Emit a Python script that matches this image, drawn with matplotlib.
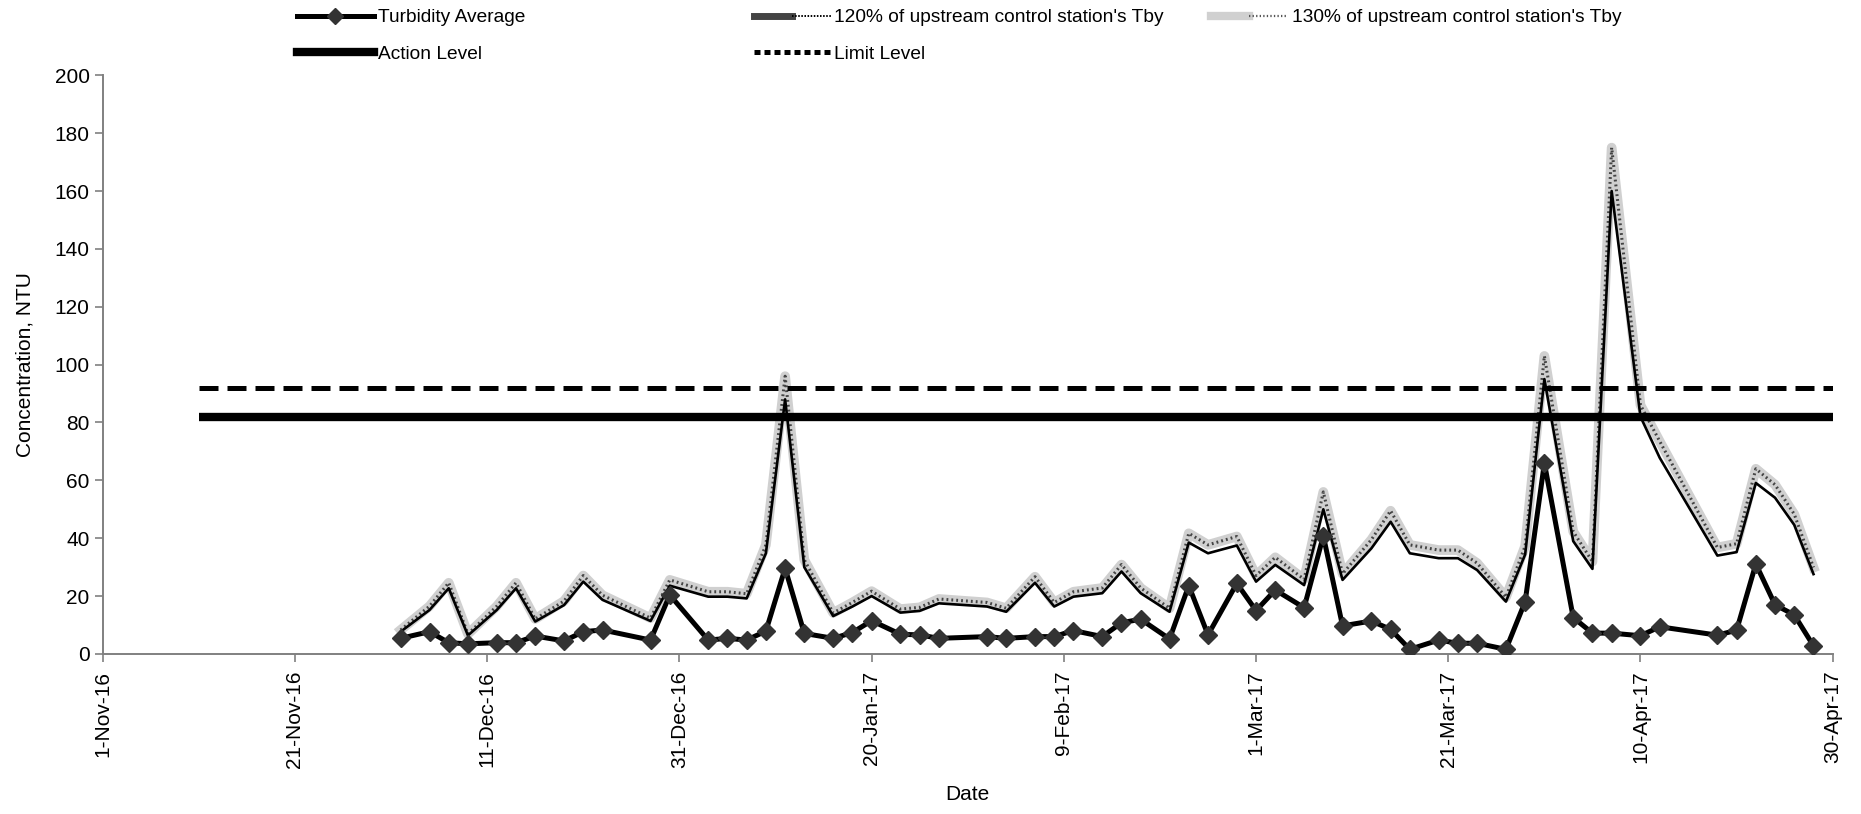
import matplotlib
matplotlib.use('Agg')
import matplotlib.pyplot as plt
import pandas as pd
from matplotlib.lines import Line2D
from matplotlib.legend_handler import HandlerTuple

plt.rcParams['font.family'] = ['Liberation Sans', 'DejaVu Sans']

sample_dates = [
    '2016-12-02', '2016-12-05', '2016-12-07', '2016-12-09', '2016-12-12', '2016-12-14',
    '2016-12-16', '2016-12-19', '2016-12-21', '2016-12-23', '2016-12-28', '2016-12-30',
    '2017-01-03', '2017-01-05', '2017-01-07', '2017-01-09', '2017-01-11', '2017-01-13',
    '2017-01-16', '2017-01-18', '2017-01-20', '2017-01-23', '2017-01-25', '2017-01-27',
    '2017-02-01', '2017-02-03', '2017-02-06', '2017-02-08', '2017-02-10', '2017-02-13',
    '2017-02-15', '2017-02-17', '2017-02-20', '2017-02-22', '2017-02-24', '2017-02-27',
    '2017-03-01', '2017-03-03', '2017-03-06', '2017-03-08', '2017-03-10', '2017-03-13',
    '2017-03-15', '2017-03-17', '2017-03-20', '2017-03-22', '2017-03-24', '2017-03-27',
    '2017-03-29', '2017-03-31', '2017-04-03', '2017-04-05', '2017-04-07', '2017-04-10',
    '2017-04-12', '2017-04-18', '2017-04-20', '2017-04-22', '2017-04-24', '2017-04-26',
    '2017-04-28',
]

turbidity_avg = [
    5.4, 7.7, 3.9, 3.5, 3.9, 3.9, 6.2, 4.5, 7.7, 8.3, 4.8, 20.4,
    4.8, 5.4, 4.8, 7.9, 29.6, 7.1, 5.4, 7.4, 11.5, 6.8, 6.6, 5.4,
    6.0, 5.4, 6.0, 6.0, 8.1, 6.0, 10.8, 12.0, 5.2, 23.6, 6.6, 24.4,
    15.0, 22.1, 16.0, 40.8, 9.7, 11.4, 8.5, 1.6, 4.8, 3.7, 3.7, 1.6,
    18.1, 66.0, 12.6, 7.2, 7.2, 6.3, 9.4, 6.5, 8.2, 31.1, 17.0, 13.5,
    2.8,
]

tby_120 = [
    7.7, 15.2, 22.7, 6.4, 15.2, 22.7, 11.2, 16.9, 25.0, 18.7, 11.4, 23.6,
    19.8, 19.8, 19.2, 34.8, 88.0, 30.0, 13.1, 16.4, 20.0, 14.3, 14.9, 17.5,
    16.4, 14.6, 24.6, 16.4, 19.8, 21.0, 28.5, 21.0, 14.6, 38.5, 34.8, 37.5,
    25.0, 30.8, 23.8, 50.0, 25.6, 36.5, 45.7, 34.8, 33.1, 33.1, 29.0, 18.1,
    34.4, 95.0, 39.0, 29.4, 160.0, 82.0, 67.8, 34.0, 35.2, 59.1, 54.0, 44.6,
    27.6,
]

tby_130 = [
    8.3, 16.5, 24.6, 6.9, 16.5, 24.6, 12.1, 18.3, 27.1, 20.3, 12.4, 25.6,
    21.5, 21.5, 20.8, 37.7, 96.0, 32.5, 14.2, 17.8, 21.7, 15.5, 16.1, 19.0,
    17.8, 15.8, 26.7, 17.8, 21.5, 22.8, 30.9, 22.8, 15.8, 41.7, 37.7, 40.6,
    27.1, 33.4, 25.8, 56.0, 27.7, 39.5, 49.5, 37.7, 35.9, 35.9, 31.4, 19.6,
    37.3, 103.0, 42.3, 31.9, 175.0, 86.0, 73.5, 36.8, 38.1, 64.0, 58.5, 48.3,
    29.9,
]

action_level = 82
limit_level = 92
level_start = '2016-11-11'

x_start = '2016-11-01'
x_end = '2017-04-30'
tick_dates = ['2016-11-01', '2016-11-21', '2016-12-11', '2016-12-31', '2017-01-20',
              '2017-02-09', '2017-03-01', '2017-03-21', '2017-04-10', '2017-04-30']
y_ticks = list(range(0, 201, 20))

FS_TICK = 15
FS_LEG = 13.8
AXIS_GREY = '#808080'


def main() -> None:
    dates = pd.to_datetime(sample_dates)
    ticks = pd.to_datetime(tick_dates)

    fig = plt.figure(figsize=(18.61, 8.14), dpi=100)
    ax = fig.add_axes([0.0552, 0.1966, 0.9296, 0.7109])

    # 130% band: light grey wide line with darker dots on top
    ax.plot(dates, tby_130, color='#d0d0d0', lw=7, solid_joinstyle='round', zorder=2)
    ax.plot(dates, tby_130, color='#444444', lw=2.2, linestyle=(0, (0.6, 1.0)), zorder=2.1)
    ax.plot(dates, tby_120, color='black', lw=1.9, zorder=3)
    ax.plot(dates, turbidity_avg, color='black', lw=3.6, marker='D', ms=9,
            mfc='#333333', mec='#333333', zorder=4)

    ax.hlines(action_level, pd.Timestamp(level_start), pd.Timestamp(x_end),
              color='black', lw=6, zorder=5)
    lim = ax.hlines(limit_level, pd.Timestamp(level_start), pd.Timestamp(x_end),
                    color='black', lw=3.6, zorder=5)
    lim.set_linestyle((0, (3.8, 1.8)))

    ax.set_xlim(pd.Timestamp(x_start), pd.Timestamp(x_end))
    ax.set_ylim(0, 200)
    ax.set_xticks(ticks)
    ax.set_xticklabels([f'{d.day}-{d.strftime("%b-%y")}' for d in ticks],
                       rotation=90, fontsize=FS_TICK)
    ax.set_yticks(y_ticks)
    ax.set_yticklabels([str(v) for v in y_ticks], fontsize=FS_TICK)
    ax.tick_params(axis='both', direction='out', length=6, color=AXIS_GREY, width=1.2)
    ax.tick_params(axis='x', pad=6)

    for side in ('top', 'right'):
        ax.spines[side].set_visible(False)
    for side in ('left', 'bottom'):
        ax.spines[side].set_color(AXIS_GREY)
        ax.spines[side].set_linewidth(1.4)

    ax.set_xlabel('Date', fontsize=FS_TICK, labelpad=12)
    ax.set_ylabel('Concentration, NTU', fontsize=FS_TICK, labelpad=14)

    # legend proxies, three separate columns like the original
    h_turb = Line2D([], [], color='black', lw=3.6, marker='D', ms=8,
                    mfc='#333333', mec='#333333')
    h_action = Line2D([], [], color='black', lw=6)
    h_120 = (Line2D([], [], color='#444444', lw=5),
             Line2D([], [], color='black', lw=1.4, linestyle=(0, (0.8, 0.8))))
    h_limit = Line2D([], [], color='black', lw=3.6, linestyle=(0, (1.2, 0.8)))
    h_130 = (Line2D([], [], color='#d0d0d0', lw=6),
             Line2D([], [], color='#555555', lw=1.6, linestyle=(0, (0.6, 1.0))))

    common = dict(loc='upper left', frameon=False, fontsize=FS_LEG, borderpad=0,
                  borderaxespad=0, handlelength=4.0, handletextpad=0.2,
                  labelspacing=1.0, handler_map={tuple: HandlerTuple(ndivide=None)})
    fig.legend([h_turb, h_action], ['Turbidity Average', 'Action Level'],
               bbox_to_anchor=(297 / 1861, 1 - 9 / 814), **common)
    fig.legend([h_120, h_limit], ["120% of upstream control station's Tby", 'Limit Level'],
               bbox_to_anchor=(754 / 1861, 1 - 9 / 814), **common)
    fig.legend([h_130], ["130% of upstream control station's Tby"],
               bbox_to_anchor=(1211 / 1861, 1 - 9 / 814), **common)

    fig.savefig('out.png', dpi=100)


if __name__ == '__main__':
    main()
